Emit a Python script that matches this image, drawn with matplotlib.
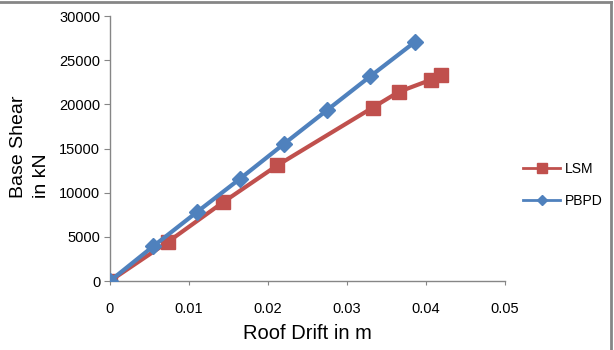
import matplotlib
matplotlib.use("Agg")
import matplotlib.pyplot as plt
from matplotlib.lines import Line2D

plt.rcParams['font.family'] = ['Liberation Sans', 'DejaVu Sans']

# LSM series
lsm_drift = [0.0, 0.0073, 0.0143, 0.0212, 0.0333, 0.0366, 0.0407, 0.0419]
lsm_shear = [0, 4400, 8900, 13100, 19650, 21430, 22800, 23300]

# PBPD series
pbpd_drift = [0.0, 0.0055, 0.0110, 0.0165, 0.0220, 0.0275, 0.0330, 0.0386]
pbpd_shear = [0, 3950, 7800, 11600, 15500, 19350, 23200, 27050]

x_ticks = [0, 0.01, 0.02, 0.03, 0.04, 0.05]
x_tick_labels = ['0', '0.01', '0.02', '0.03', '0.04', '0.05']
y_ticks = [0, 5000, 10000, 15000, 20000, 25000, 30000]

red = '#C0504D'
blue = '#4F81BD'
axis_gray = '#868686'

fig = plt.figure(figsize=(6.14, 3.5), dpi=100)
ax = fig.add_axes([0.179, 0.197, 0.643, 0.757])

ax.plot(lsm_drift, lsm_shear, color=red, linewidth=3, marker='s', markersize=10.5, zorder=3)
ax.plot(pbpd_drift, pbpd_shear, color=blue, linewidth=3, marker='D', markersize=8, zorder=4)

ax.set_xlim(0, 0.05)
ax.set_ylim(0, 30000)
ax.set_xticks(x_ticks)
ax.set_xticklabels(x_tick_labels)
ax.set_yticks(y_ticks)

for side in ['top', 'right']:
    ax.spines[side].set_visible(False)
for side in ['left', 'bottom']:
    ax.spines[side].set_color(axis_gray)
    ax.spines[side].set_linewidth(1)

ax.tick_params(axis='y', direction='out', length=4, color=axis_gray, labelsize=10.5, pad=3)
ax.tick_params(axis='x', direction='out', length=3, color=axis_gray, labelsize=10.5, pad=12)

ax.set_xlabel('Roof Drift in m', fontsize=14.5, labelpad=6)
fig.text(0.017, 0.434, 'Base Shear\nin kN', rotation=90, fontsize=14,
         ha='left', va='bottom', multialignment='left', linespacing=1.4)

handles = [Line2D([], [], color=red, linewidth=2, marker='s', markersize=6.5),
           Line2D([], [], color=blue, linewidth=2, marker='D', markersize=5)]
ax.legend(handles, ['LSM', 'PBPD'], loc='center left', bbox_to_anchor=(1.0, 0.362),
          frameon=False, fontsize=10, handlelength=2.7, labelspacing=1.3,
          handletextpad=0.3, borderaxespad=0.9)

# partial gray frame at top and right, as in the original
fig.add_artist(Line2D([0, 611 / 614], [1 - 1.5 / 350, 1 - 1.5 / 350],
                      transform=fig.transFigure, color=axis_gray, linewidth=2))
fig.add_artist(Line2D([610.5 / 614, 610.5 / 614], [0, 1 - 1.5 / 350],
                      transform=fig.transFigure, color=axis_gray, linewidth=2))

fig.savefig('out.png', dpi=100)
